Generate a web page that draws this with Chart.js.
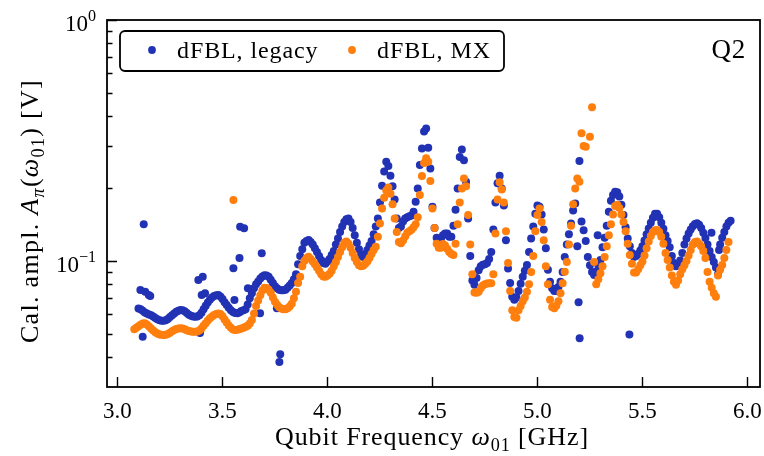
<!DOCTYPE html>
<html>
<head>
<meta charset="utf-8">
<script src="https://cdn.jsdelivr.net/npm/chart.js@4.4.1/dist/chart.umd.min.js"></script>
<style>
  html, body { margin: 0; padding: 0; background: #fff; }
  canvas { display: block; }
</style>
</head>
<body>
<canvas id="calChart" width="764" height="456"></canvas>
<script>
// Frequency sweep [GHz]
const freq = [
  3.08, 3.09,
  3.10, 3.11, 3.12, 3.13, 3.14, 3.15, 3.16, 3.17, 3.18, 3.19,
  3.20, 3.21, 3.22, 3.23, 3.24, 3.25, 3.26, 3.27, 3.28, 3.29,
  3.30, 3.31, 3.32, 3.33, 3.34, 3.35, 3.36, 3.37, 3.38, 3.39,
  3.40, 3.41, 3.42, 3.43, 3.44, 3.45, 3.46, 3.47, 3.48, 3.49,
  3.50, 3.51, 3.52, 3.53, 3.54, 3.55, 3.56, 3.57, 3.58, 3.59,
  3.60, 3.61, 3.62, 3.63, 3.64, 3.65, 3.66, 3.67, 3.68, 3.69,
  3.70, 3.71, 3.72, 3.73, 3.74, 3.75, 3.76, 3.77, 3.78, 3.79,
  3.80, 3.81, 3.82, 3.83, 3.84, 3.85, 3.86, 3.87, 3.88, 3.89,
  3.90, 3.91, 3.92, 3.93, 3.94, 3.95, 3.96, 3.97, 3.98, 3.99,
  4.00, 4.01, 4.02, 4.03, 4.04, 4.05, 4.06, 4.07, 4.08, 4.09,
  4.10, 4.11, 4.12, 4.13, 4.14, 4.15, 4.16, 4.17, 4.18, 4.19,
  4.20, 4.21, 4.22, 4.23, 4.24, 4.25, 4.26, 4.27, 4.28, 4.29,
  4.30, 4.31, 4.32, 4.33, 4.34, 4.35, 4.36, 4.37, 4.38, 4.39,
  4.40, 4.41, 4.42, 4.43, 4.44, 4.45, 4.46, 4.47, 4.48, 4.49,
  4.50, 4.51, 4.52, 4.53, 4.54, 4.55, 4.56, 4.57, 4.58, 4.59,
  4.60, 4.61, 4.62, 4.63, 4.64, 4.65, 4.66, 4.67, 4.68, 4.69,
  4.70, 4.71, 4.72, 4.73, 4.74, 4.75, 4.76, 4.77, 4.78, 4.79,
  4.80, 4.81, 4.82, 4.83, 4.84, 4.85, 4.86, 4.87, 4.88, 4.89,
  4.90, 4.91, 4.92, 4.93, 4.94, 4.95, 4.96, 4.97, 4.98, 4.99,
  5.00, 5.01, 5.02, 5.03, 5.04, 5.05, 5.06, 5.07, 5.08, 5.09,
  5.10, 5.11, 5.12, 5.13, 5.14, 5.15, 5.16, 5.17, 5.18, 5.19,
  5.20, 5.21, 5.22, 5.23, 5.24, 5.25, 5.26, 5.27, 5.28, 5.29,
  5.30, 5.31, 5.32, 5.33, 5.34, 5.35, 5.36, 5.37, 5.38, 5.39,
  5.40, 5.41, 5.42, 5.43, 5.44, 5.45, 5.46, 5.47, 5.48, 5.49,
  5.50, 5.51, 5.52, 5.53, 5.54, 5.55, 5.56, 5.57, 5.58, 5.59,
  5.60, 5.61, 5.62, 5.63, 5.64, 5.65, 5.66, 5.67, 5.68, 5.69,
  5.70, 5.71, 5.72, 5.73, 5.74, 5.75, 5.76, 5.77, 5.78, 5.79,
  5.80, 5.81, 5.82, 5.83, 5.84, 5.85, 5.86, 5.87, 5.88, 5.89,
  5.90, 5.91, 5.92
];

// Calibrated pi-pulse amplitude [V], legacy dFBL
const legacyAmp = [
  null, null,
  0.0635, 0.0630, 0.0622, 0.0612, 0.0605, 0.0600, 0.0595, 0.0588, 0.0580, 0.0573,
  0.0568, 0.0565, 0.0565, 0.0568, 0.0575, 0.0585, 0.0596, 0.0606, 0.0615, 0.0622,
  0.0626, 0.0625, 0.0618, 0.0608, 0.0598, 0.0592, 0.0588, 0.0587, 0.0588, 0.0595,
  0.0610, 0.0630, 0.0652, 0.0672, 0.0690, 0.0705, 0.0715, 0.0721, 0.0722, 0.0712,
  0.0695, 0.0675, 0.0657, 0.0640, 0.0625, 0.0614, 0.0608, 0.0607, 0.0612, 0.0620,
  0.0625, 0.0630, 0.0660, 0.0700, 0.0734, 0.0770, 0.0800, 0.0822, 0.0845, 0.0862,
  0.0873, 0.0870, 0.0860, 0.0835, 0.0810, 0.0785, 0.0770, 0.0760, 0.0757, 0.0757,
  0.0760, 0.0775, 0.0792, 0.0810, 0.0840, 0.0880, 0.0970, 0.1050, 0.1120, 0.1190,
  0.1210, 0.1222, 0.1200, 0.1170, 0.1130, 0.1090, 0.1050, 0.1010, 0.0980, 0.0975,
  0.0995, 0.1020, 0.1060, 0.1100, 0.1170, 0.1240, 0.1320, 0.1390, 0.1450, 0.1490,
  0.1500, 0.1450, 0.1370, 0.1280, 0.1190, 0.1120, 0.1060, 0.1040, 0.1070, 0.1110,
  0.1160, 0.1210, 0.1290, 0.1390, 0.1500, 0.1750, 0.2050, 0.2350, 0.2580, 0.2480,
  0.2260, 0.2040, 0.1800, 0.1500, 0.1370, 0.1390, 0.1460, 0.1500, 0.1520, 0.1535,
  0.1545, 0.1600, 0.1760, 0.2000, 0.2500, 0.2930, 0.3450, 0.3550, 0.2950, 0.2420,
  0.1680, 0.1370, 0.1250, 0.1220, 0.1230, 0.1280, 0.1300, 0.1300, 0.1260, 0.1260,
  0.1400, 0.1630, 0.2000, 0.2700, 0.2900, 0.2620, 0.2130, 0.1500, 0.1050, 0.0830,
  0.0796, 0.0850, 0.0915, 0.0950, 0.0965, 0.0970, 0.0980, 0.1020, 0.1090, 0.1350,
  0.1750, 0.2100, 0.2260, 0.2000, 0.1700, 0.1220, 0.0930, 0.0810, 0.0710, 0.0690,
  0.0705, 0.0750, 0.0805, 0.0860, 0.0910, 0.0963, 0.1090, 0.1240, 0.1390, 0.1570,
  0.1700, 0.1680, 0.1560, 0.1350, 0.1130, 0.0920, 0.0820, 0.0770, 0.0750, 0.0750,
  0.0780, 0.0820, 0.0900, 0.1040, 0.1170, 0.1290, 0.1430, 0.1620, 0.1730, 0.1150,
  0.2600, 0.1460, 0.1340, 0.1210, 0.1040, 0.0960, 0.0900, 0.0875, 0.0905, 0.0960,
  0.1010, 0.1140, 0.1250, 0.1400, 0.1600, 0.1780, 0.1880, 0.1940, 0.1930, 0.1850,
  0.1710, 0.1550, 0.1380, 0.1240, 0.1150, 0.1080, 0.1040, 0.1050, 0.1070, 0.1105,
  0.1150, 0.1215, 0.1290, 0.1365, 0.1440, 0.1510, 0.1570, 0.1570, 0.1520, 0.1440,
  0.1360, 0.1280, 0.1210, 0.1140, 0.1050, 0.0980, 0.0950, 0.0970, 0.1005, 0.1080,
  0.1170, 0.1240, 0.1300, 0.1350, 0.1395, 0.1425, 0.1435, 0.1415, 0.1370, 0.1310,
  0.1245, 0.1170, 0.1100, 0.1040, 0.0990, 0.0940, 0.0880, 0.1170, 0.1250, 0.1320,
  0.1390, 0.1440, 0.1470
];

// Calibrated pi-pulse amplitude [V], MX dFBL
const mxAmp = [
  0.0521, 0.0528,
  0.0536, 0.0544, 0.0550, 0.0551, 0.0545, 0.0535, 0.0525, 0.0515, 0.0506, 0.0500,
  0.0496, 0.0494, 0.0493, 0.0494, 0.0498, 0.0504, 0.0511, 0.0517, 0.0522, 0.0525,
  0.0526, 0.0525, 0.0521, 0.0516, 0.0512, 0.0510, 0.0509, 0.0509, 0.0510, 0.0515,
  0.0525, 0.0538, 0.0552, 0.0566, 0.0578, 0.0588, 0.0597, 0.0603, 0.0605, 0.0603,
  0.0590, 0.0572, 0.0555, 0.0540, 0.0528, 0.0520, 0.0517, 0.0518, 0.0521, 0.0525,
  0.0529, 0.0533, 0.0538, 0.0550, 0.0569, 0.0605, 0.0650, 0.0685, 0.0720, 0.0755,
  0.0775, 0.0772, 0.0760, 0.0738, 0.0705, 0.0678, 0.0658, 0.0643, 0.0635, 0.0631,
  0.0630, 0.0636, 0.0648, 0.0665, 0.0700, 0.0745, 0.0810, 0.0860, 0.0950, 0.1000,
  0.1030, 0.1042, 0.1020, 0.0995, 0.0970, 0.0940, 0.0910, 0.0880, 0.0862, 0.0860,
  0.0870, 0.0885, 0.0910, 0.0950, 0.0990, 0.1040, 0.1090, 0.1140, 0.1190, 0.1205,
  0.1180, 0.1135, 0.1080, 0.1030, 0.0990, 0.0960, 0.0950, 0.0955, 0.0975, 0.0995,
  0.1030, 0.1070, 0.1110, 0.1145, 0.1260, 0.1430, 0.1650, 0.1830, 0.1960, 0.2020,
  0.1900, 0.1720, 0.1500, 0.1320, 0.1200, 0.1185, 0.1215, 0.1265, 0.1310, 0.1330,
  0.1348, 0.1380, 0.1420, 0.1520, 0.1880, 0.2250, 0.2550, 0.2670, 0.2580, 0.2150,
  0.1650, 0.1370, 0.1180, 0.1135, 0.1135, 0.1175, 0.1160, 0.1125, 0.1090, 0.1068,
  0.1060, 0.1180, 0.1420, 0.1750, 0.2000, 0.2200, 0.2040, 0.1550, 0.1170, 0.0880,
  0.0740, 0.0738, 0.0746, 0.0770, 0.0792, 0.0800, 0.0806, 0.0808, 0.0808, 0.0880,
  0.1300, 0.1800, 0.2120, 0.1980, 0.1750, 0.1330, 0.0980, 0.0750, 0.0625, 0.0585,
  0.0582, 0.0625, 0.0650, 0.0680, 0.0705, 0.0745, 0.0800, 0.0900, 0.1050, 0.1330,
  0.1550, 0.1650, 0.1450, 0.1220, 0.0950, 0.0800, 0.0690, 0.0645, 0.0636, 0.0652,
  0.0680, 0.0734, 0.0808, 0.0902, 0.0990, 0.1170, 0.1400, 0.1720, 0.2000, 0.2200,
  0.2130, 0.3390, 0.3000, 0.2980, null,   0.3280, 0.4340, 0.0990, 0.0800, 0.0840,
  0.0889, 0.0950, 0.1040, 0.1150, 0.1280, 0.1420, 0.1560, 0.1690, 0.1710, 0.1660,
  0.1560, 0.1450, 0.1330, 0.1180, 0.1060, 0.0975, 0.0895, 0.0895, 0.0925, 0.0960,
  0.0995, 0.1055, 0.1130, 0.1205, 0.1270, 0.1320, 0.1340, 0.1345, 0.1320, 0.1260,
  0.1180, 0.1080, 0.1010, 0.0940, 0.0870, 0.0820, 0.0797, 0.0830, 0.0880, 0.0925,
  0.0960, 0.1000, 0.1055, 0.1110, 0.1170, 0.1200, 0.1205, 0.1180, 0.1150, 0.1100,
  0.1030, 0.0900, 0.0820, 0.0775, 0.0735, 0.0710, 0.0870, 0.0920, 0.0963, 0.1030,
  0.1110, 0.1200, null
];

// Repeated / off-trend calibration points
const legacyExtraFreq = [3.109, 3.125, 3.132, 3.149, 3.156, 3.120, 3.385, 3.406, 3.401, 3.417,
                         3.393, 3.552, 3.581, 3.584, 3.603, 3.557, 3.621, 3.687, 3.679, 3.759,
                         3.775, 3.771, 5.196, 5.201, 5.287, 5.438, 5.829, 5.865];
const legacyExtraAmp = [0.0758, 0.142, 0.0746, 0.0722, 0.0716, 0.0485, 0.0834, 0.0861, 0.0722, 0.0734,
                        0.0502, 0.0933, 0.103, 0.1388, 0.1367, 0.0689, 0.0771, 0.1076, 0.0607, 0.0636,
                        0.0410, 0.0381, 0.0675, 0.0478, 0.128, 0.0495, 0.131, 0.111];
const mxExtraFreq = [3.552];
const mxExtraAmp = [0.179];

const xTicks = [3.0, 3.5, 4.0, 4.5, 5.0, 5.5, 6.0];
const yMajorTicks = [1, 0.1];
const yMajorExp = ['0', '\u22121'];
const yMinorTicks = [0.04, 0.05, 0.06, 0.07, 0.08, 0.09, 0.2, 0.3, 0.4, 0.5, 0.6, 0.7, 0.8, 0.9];

const seriesLabels = ['dFBL, legacy', 'dFBL, MX'];
const BLUE = '#2232b4';
const ORANGE = '#ff7f0e';
const SERIF = '"Liberation Serif", "DejaVu Serif", serif';

function toPoints(xs, ys, ex, ey) {
  const pts = [];
  xs.forEach((x, i) => { if (ys[i] !== null) pts.push({ x: x, y: ys[i] }); });
  ex.forEach((x, i) => pts.push({ x: x, y: ey[i] }));
  return pts;
}

// mixed-style text: runs like [{t:'A', it:true}, {t:'π', it:true, sub:true}]
function setRunFont(ctx, r, size) {
  const s = (r.sub || r.sup) ? size * 0.7 : size;
  ctx.font = (r.it ? 'italic ' : '') + s + 'px ' + SERIF;
}
function runsWidth(ctx, runs, size) {
  let w = 0;
  runs.forEach(r => { setRunFont(ctx, r, size); w += ctx.measureText(r.t).width; });
  return w;
}
function drawRuns(ctx, runs, x, y, size) {
  runs.forEach(r => {
    setRunFont(ctx, r, size);
    let dy = 0;
    if (r.sub) dy = size * 0.22;
    if (r.sup) dy = -size * 0.42;
    ctx.fillText(r.t, x, y + dy);
    x += ctx.measureText(r.t).width;
  });
}

const decorations = {
  id: 'decorations',
  afterDraw(chart) {
    const ctx = chart.ctx;
    const area = chart.chartArea;
    const xs = chart.scales.x, ys = chart.scales.y;
    ctx.save();
    ctx.fillStyle = '#000';
    ctx.strokeStyle = '#000';
    ctx.textBaseline = 'alphabetic';

    // frame
    ctx.lineWidth = 1.8;
    ctx.strokeRect(area.left, area.top, area.right - area.left, area.bottom - area.top);

    // inward ticks
    ctx.lineWidth = 1.4;
    ctx.beginPath();
    xTicks.forEach(v => {
      const px = Math.round(xs.getPixelForValue(v)) + 0.5;
      ctx.moveTo(px, area.bottom); ctx.lineTo(px, area.bottom - 10);
    });
    yMajorTicks.forEach(v => {
      const py = Math.round(ys.getPixelForValue(v)) + 0.5;
      ctx.moveTo(area.left, py); ctx.lineTo(area.left + 10, py);
    });
    yMinorTicks.forEach(v => {
      const py = Math.round(ys.getPixelForValue(v)) + 0.5;
      ctx.moveTo(area.left, py); ctx.lineTo(area.left + 5.5, py);
    });
    ctx.stroke();

    // x tick labels
    ctx.font = '23px ' + SERIF;
    ctx.textAlign = 'center';
    xTicks.forEach(v => {
      ctx.fillText(v.toFixed(1), xs.getPixelForValue(v), 418);
    });

    // y tick labels, 10^n
    ctx.textAlign = 'left';
    yMajorTicks.forEach((v, i) => {
      const runs = [{ t: '10' }, { t: yMajorExp[i], sup: true }];
      const w = runsWidth(ctx, runs, 23);
      const py = ys.getPixelForValue(v);
      drawRuns(ctx, runs, 96 - w, py + 11, 23);
    });

    // axis titles, slightly tracked out
    ctx.letterSpacing = '0.9px';
    const xRuns = [{ t: 'Qubit Frequency ' }, { t: '\u03c9', it: true }, { t: '01', sub: true }, { t: ' [GHz]' }];
    const xw = runsWidth(ctx, xRuns, 26);
    drawRuns(ctx, xRuns, 432 - xw / 2, 445, 26);

    ctx.letterSpacing = '1.3px';
    const yRuns = [{ t: 'Cal. ampl. ' }, { t: 'A', it: true }, { t: '\u03c0', it: true, sub: true },
                   { t: '(' }, { t: '\u03c9', it: true }, { t: '01', sub: true }, { t: ') [V]' }];
    const yw = runsWidth(ctx, yRuns, 26);
    ctx.save();
    ctx.translate(38, 211);
    ctx.rotate(-Math.PI / 2);
    drawRuns(ctx, yRuns, -yw / 2, 0, 26);
    ctx.restore();

    // legend
    ctx.letterSpacing = '0px';
    ctx.lineWidth = 1.8;
    ctx.fillStyle = '#fff';
    ctx.beginPath();
    ctx.roundRect(120, 31, 384, 40, 5);
    ctx.fill();
    ctx.stroke();
    const legendX = [152, 352];
    const colors = [BLUE, ORANGE];
    seriesLabels.forEach((lab, i) => {
      ctx.fillStyle = colors[i];
      ctx.beginPath();
      ctx.arc(legendX[i], 50, 3.9, 0, Math.PI * 2);
      ctx.fill();
      ctx.fillStyle = '#000';
      ctx.font = '24px ' + SERIF;
      ctx.letterSpacing = '0.9px';
      ctx.fillText(lab, legendX[i] + 25, 58);
      ctx.letterSpacing = '0px';
    });

    // panel tag
    ctx.textAlign = 'right';
    ctx.font = '27px ' + SERIF;
    ctx.letterSpacing = '0.8px';
    ctx.fillText('Q2', 746, 58);
    ctx.restore();
  }
};

new Chart(document.getElementById('calChart'), {
  type: 'scatter',
  data: {
    datasets: [
      {
        label: seriesLabels[0],
        data: toPoints(freq, legacyAmp, legacyExtraFreq, legacyExtraAmp),
        backgroundColor: BLUE,
        borderWidth: 0,
        pointRadius: 4,
        order: 2,
      },
      {
        label: seriesLabels[1],
        data: toPoints(freq, mxAmp, mxExtraFreq, mxExtraAmp),
        backgroundColor: ORANGE,
        borderWidth: 0,
        pointRadius: 4,
        order: 1,
      },
    ],
  },
  options: {
    responsive: false,
    animation: false,
    layout: { padding: { left: 107, right: 4, top: 20, bottom: 69 } },
    scales: {
      x: { type: 'linear', min: 2.95, max: 6.06, display: false },
      y: { type: 'logarithmic', min: 0.03, max: 1.0, display: false },
    },
    plugins: {
      legend: { display: false },
      tooltip: { enabled: false },
    },
  },
  plugins: [decorations],
});
</script>
</body>
</html>
